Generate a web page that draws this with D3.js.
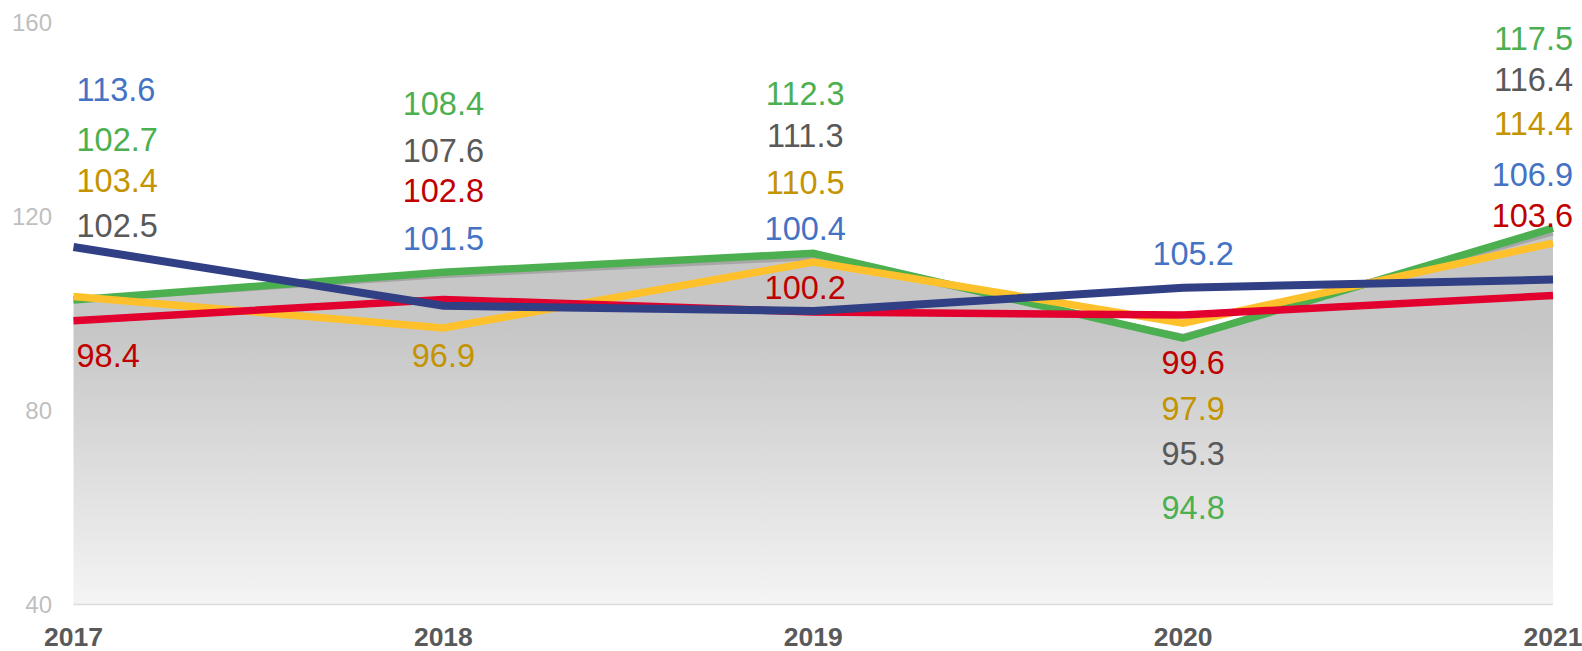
<!DOCTYPE html>
<html><head><meta charset="utf-8">
<script src="https://cdn.jsdelivr.net/npm/d3@7"></script>
<style>html,body{margin:0;padding:0;background:#fff;}svg{display:block;font-family:"Liberation Sans",Arial,sans-serif;}</style>
</head><body>
<svg id="c" width="1582" height="651"></svg>
<script>
const years = ["2017","2018","2019","2020","2021"];
const grayVals   = [102.5, 107.6, 111.3, 95.3, 116.4];
const greenVals  = [102.7, 108.4, 112.3, 94.8, 117.5];
const yellowVals = [103.4, 96.9, 110.5, 97.9, 114.4];
const redVals    = [98.4, 102.8, 100.2, 99.6, 103.6];
const blueVals   = [113.6, 101.5, 100.4, 105.2, 106.9];
const yTicks = [40, 80, 120, 160];

// label anchor levels (value units) for each series, per year
const grayLab   = [118.1, 133.6, 136.7, 71.1, 148.2];
const greenLab  = [135.9, 143.3, 145.4, 60.0, 156.7];
const yellowLab = [127.4, 91.3, 127.0, 80.4, 139.2];
const redLab    = [91.3, 125.4, 105.2, 89.9, 120.2];
const blueLab   = [146.2, 115.5, 117.5, 112.4, 128.5];

const svg = d3.select("#c");
const x = d3.scalePoint().domain(years).range([73.5, 1553]);
const y = d3.scaleLinear().domain([40, 160]).range([604, 22]);

const defs = svg.append("defs");
const grad = defs.append("linearGradient").attr("id","g").attr("gradientUnits","userSpaceOnUse")
  .attr("x1",0).attr("x2",0).attr("y1",y(97)).attr("y2",y(40));
grad.append("stop").attr("offset","0%").attr("stop-color","#c6c6c6");
grad.append("stop").attr("offset","100%").attr("stop-color","#f4f4f4");

// y axis labels
svg.append("g").selectAll("text").data(yTicks).join("text")
  .attr("x", 52).attr("y", d => y(d)).attr("dy","0.36em")
  .attr("text-anchor","end").attr("font-size", 24).attr("fill","#bfbfbf")
  .text(d => d);

// area
const area = d3.area().x((d,i)=>x(years[i])).y0(y(40)).y1(d=>y(d));
svg.append("path").datum(grayVals).attr("d", area).attr("fill","url(#g)");
// baseline
svg.append("line").attr("x1", x(years[0])).attr("x2", x(years[4])).attr("y1", y(40)+0.5).attr("y2", y(40)+0.5)
  .attr("stroke","#dcdcdc").attr("stroke-width",1.5);

const line = d3.line().x((d,i)=>x(years[i])).y(d=>y(d));
const series = [
  {v: grayVals,   stroke:"#a6a6a6", w:4,   lab: grayLab,   lc:"#595959"},
  {v: greenVals,  stroke:"#4caf50", w:7.5, lab: greenLab,  lc:"#4caf50"},
  {v: yellowVals, stroke:"#ffc12b", w:7.5, lab: yellowLab, lc:"#c49400"},
  {v: redVals,    stroke:"#e2002e", w:7.5, lab: redLab,    lc:"#c00000"},
  {v: blueVals,   stroke:"#313f85", w:8,   lab: blueLab,   lc:"#4472c4"}
];
series.forEach(s => {
  svg.append("path").datum(s.v).attr("d", line).attr("fill","none")
    .attr("stroke", s.stroke).attr("stroke-width", s.w).attr("stroke-linejoin","miter");
});

// data labels
const anchors = ["start","middle","middle","middle","end"];
const xOff = [3, 0, -8, 10, 20];
series.forEach(s => {
  svg.append("g").selectAll("text").data(s.v).join("text")
    .attr("x", (d,i) => x(years[i]) + xOff[i])
    .attr("y", (d,i) => y(s.lab[i])).attr("dy","0.36em")
    .attr("text-anchor", (d,i) => anchors[i])
    .attr("font-size", 32.5).attr("fill", s.lc)
    .text(d => d.toFixed(1));
});

// x labels
svg.append("g").selectAll("text").data(years).join("text")
  .attr("x", d => x(d)).attr("y", 636).attr("dy","0.36em")
  .attr("text-anchor","middle").attr("font-size", 26.5).attr("font-weight","bold").attr("fill","#595959")
  .text(d => d);
</script>
</body></html>
